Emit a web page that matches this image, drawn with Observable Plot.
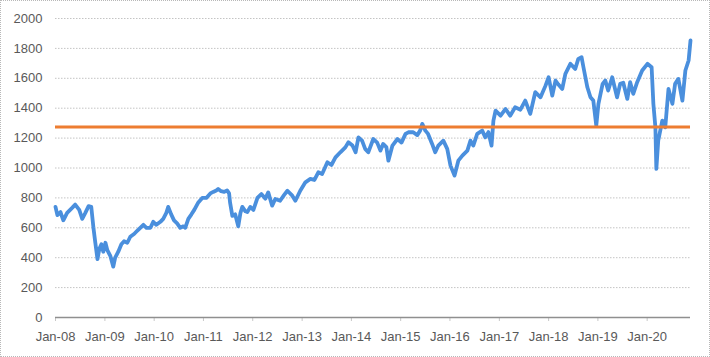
<!DOCTYPE html>
<html><head><meta charset="utf-8">
<script src="https://cdn.jsdelivr.net/npm/d3@7"></script>
<script src="https://cdn.jsdelivr.net/npm/@observablehq/plot@0.6"></script>
<style>
body{margin:0;background:#fff}
#chart svg{display:block;outline:1px dotted #b8b8b8;outline-offset:-1px}
</style>
</head><body><div id="chart"></div>
<script>
const dates = [
"2008-01-01","2008-01-15","2008-02-07","2008-02-28","2008-03-27","2008-05-05","2008-05-26","2008-06-25","2008-07-17","2008-08-09",
"2008-09-02","2008-09-22","2008-10-08","2008-10-22","2008-11-07","2008-11-21","2008-12-06","2008-12-20","2009-01-05","2009-01-19",
"2009-02-11","2009-03-04","2009-03-18","2009-04-10","2009-05-03","2009-05-23","2009-06-16","2009-07-08","2009-08-07","2009-08-28",
"2009-09-20","2009-10-13","2009-11-05","2009-12-04","2009-12-25","2010-01-17","2010-02-16","2010-03-09","2010-04-01","2010-04-15",
"2010-05-07","2010-05-28","2010-06-20","2010-07-13","2010-08-05","2010-08-19","2010-09-11","2010-10-04","2010-10-25","2010-11-24",
"2010-12-23","2011-01-22","2011-02-21","2011-03-14","2011-04-06","2011-04-20","2011-05-12","2011-06-04","2011-06-25","2011-07-10",
"2011-07-17","2011-08-03","2011-08-24","2011-09-16","2011-10-02","2011-10-16","2011-11-08","2011-11-22","2011-12-14","2012-01-06",
"2012-02-05","2012-03-05","2012-04-04","2012-04-25","2012-05-24","2012-06-16","2012-07-22","2012-08-21","2012-09-14","2012-10-20",
"2012-11-12","2012-12-18","2013-01-25","2013-03-03","2013-04-02","2013-05-01","2013-05-29","2013-07-07","2013-08-06","2013-09-05",
"2013-10-11","2013-11-17","2013-12-10","2014-01-09","2014-02-01","2014-02-22","2014-03-21","2014-04-13","2014-05-06","2014-06-12",
"2014-07-11","2014-08-04","2014-08-24","2014-09-17","2014-10-02","2014-11-01","2014-12-08","2015-01-07","2015-02-06","2015-02-27",
"2015-04-04","2015-05-04","2015-05-25","2015-06-10","2015-07-03","2015-07-23","2015-08-22","2015-09-14","2015-10-07","2015-11-13",
"2015-12-12","2016-01-05","2016-02-04","2016-03-03","2016-04-02","2016-05-09","2016-06-01","2016-06-22","2016-07-21","2016-08-27",
"2016-09-19","2016-10-12","2016-11-04","2016-11-18","2016-12-04","2017-01-10","2017-02-16","2017-03-22","2017-04-28","2017-06-06",
"2017-07-12","2017-08-18","2017-09-24","2017-11-02","2017-12-09","2018-01-01","2018-01-28","2018-02-21","2018-03-13","2018-04-12",
"2018-05-05","2018-06-11","2018-07-17","2018-08-09","2018-09-02","2018-09-16","2018-10-15","2018-11-07","2018-11-28","2018-12-20",
"2019-01-05","2019-02-05","2019-02-25","2019-03-18","2019-04-17","2019-05-23","2019-06-15","2019-07-08","2019-08-07","2019-08-28",
"2019-09-20","2019-10-19","2019-11-25","2020-01-03","2020-02-03","2020-02-16","2020-03-02","2020-03-09","2020-03-23","2020-04-22",
"2020-05-14","2020-06-07","2020-07-06","2020-07-26","2020-08-19","2020-09-18","2020-10-10","2020-11-03","2020-11-17"
];
const values = [
740,685,705,650,700,735,755,720,660,700,
745,740,600,500,390,460,490,440,500,450,
410,340,400,440,490,510,500,540,560,580,
600,620,600,600,640,620,640,660,700,740,
690,650,630,600,610,600,660,690,720,770,
800,800,830,840,850,860,845,840,850,830,
770,680,690,610,700,740,710,705,740,720,
800,826,795,837,748,793,781,820,848,815,
781,848,904,927,920,971,960,1038,1020,1071,
1105,1138,1172,1150,1105,1205,1183,1128,1105,1194,
1170,1116,1161,1140,1049,1150,1194,1170,1228,1239,
1239,1220,1250,1295,1250,1228,1161,1105,1150,1183,
1128,1016,949,1049,1083,1116,1183,1150,1228,1250,
1205,1240,1150,1317,1384,1350,1395,1350,1406,1390,
1451,1362,1507,1473,1551,1607,1484,1585,1560,1529,
1630,1697,1663,1730,1741,1674,1540,1473,1451,1284,
1429,1563,1585,1518,1607,1473,1563,1570,1462,1574,
1496,1574,1652,1697,1674,1429,1272,994,1183,1317,
1272,1529,1429,1563,1596,1451,1652,1719,1853
];
const referenceLevel = 1275;
const yTicks = [0,200,400,600,800,1000,1200,1400,1600,1800,2000];
const xTickYears = [2008,2009,2010,2011,2012,2013,2014,2015,2016,2017,2018,2019,2020];

const series = dates.map((d,i)=>({date:new Date(d), value:values[i]}));
const xTicks = xTickYears.map(y=>new Date(Date.UTC(y,0,1)));

const chart = Plot.plot({
  width:710, height:357,
  marginLeft:55, marginRight:20, marginTop:18, marginBottom:40,
  style:{fontFamily:"'Liberation Sans', Arial, sans-serif", fontSize:"13px", color:"#595959", background:"#fff", overflow:"visible"},
  x:{type:"utc", domain:[series[0].date, series[series.length-1].date]},
  y:{domain:[0,2000]},
  marks:[
    Plot.ruleY(yTicks.filter(v=>v>0), {stroke:"#c4c4c4", strokeDasharray:"1.5,1.5", strokeWidth:1}),
    Plot.axisY({ticks:yTicks, tickFormat:d=>String(d), tickSize:0, tickPadding:13, label:null}),
    Plot.axisX({ticks:xTicks, tickFormat:d3.utcFormat("%b-%y"), tickSize:4, tickPadding:10, label:null, stroke:"#c8c8c8"}),
    Plot.ruleY([0], {stroke:"#8f8f8f", strokeWidth:1.5}),
    Plot.line(series, {x:"date", y:"value", stroke:"#4A8FDD", strokeWidth:3.8, strokeLinejoin:"round"}),
    Plot.ruleY([referenceLevel], {stroke:"#ED7D31", strokeWidth:3})
  ]
});
document.getElementById("chart").append(chart);
</script>
</body></html>
